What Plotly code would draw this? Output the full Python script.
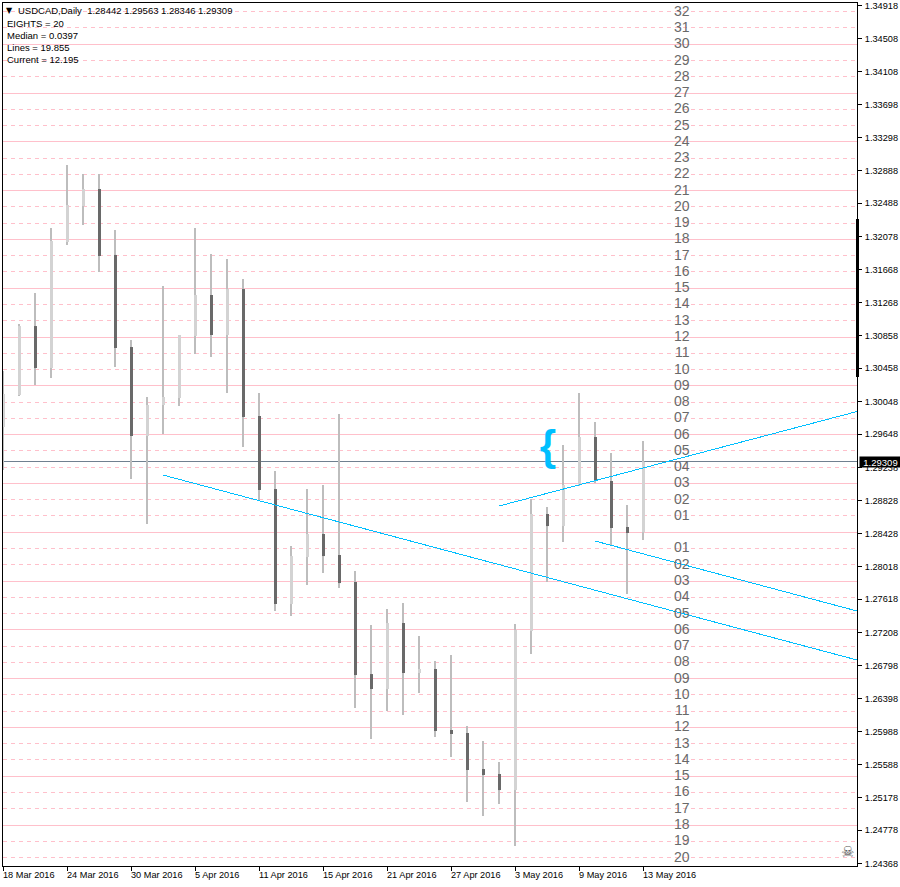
import plotly.graph_objects as go

FONT = "Liberation Sans"

bar_index = list(range(41))
opens = [1.29736,1.30129,1.30977,1.30461,1.32010,1.32453,1.32662,1.31851,1.30719,1.29625,
         1.30006,1.30092,1.30855,1.31359,1.30867,1.31432,1.29871,1.28973,1.27559,1.28137,
         1.28420,1.28162,1.27830,1.26698,1.26514,1.27326,1.26711,1.26760,1.26010,1.25973,
         1.25530,1.25469,1.25272,1.27227,1.28666,1.28518,1.29022,1.29613,1.29072,1.28506,1.28442]
highs = [1.30424,1.31002,1.31383,1.32183,1.32957,1.32846,1.32846,1.32158,1.30805,1.30105,
         1.31469,1.30867,1.32183,1.31863,1.31801,1.31555,1.30154,1.29195,1.28272,1.28973,
         1.29022,1.29895,1.27965,1.27301,1.27498,1.27572,1.27166,1.26858,1.26932,1.26059,
         1.25875,1.25616,1.27313,1.28850,1.28752,1.29514,1.30154,1.29797,1.29416,1.28777,1.29563]
lows = [1.29207,1.30117,1.30252,1.30338,1.31973,1.32219,1.31641,1.30473,1.29096,1.28543,
        1.29650,1.29994,1.30633,1.30596,1.30154,1.29490,1.28838,1.27473,1.27412,1.27793,
        1.27940,1.27756,1.26280,1.25899,1.26244,1.26194,1.26465,1.25924,1.25678,1.25125,
        1.24953,1.25100,1.24584,1.26944,1.27830,1.28322,1.29010,1.29047,1.28285,1.27682,1.28346]
closes = [1.30141,1.30977,1.30461,1.32023,1.32465,1.32662,1.31838,1.30707,1.29625,1.30006,
          1.30105,1.30867,1.31359,1.30867,1.31432,1.29859,1.28961,1.27559,1.28149,1.28420,
          1.28149,1.27817,1.26686,1.26514,1.27326,1.26711,1.26760,1.25998,1.25961,1.25518,
          1.25457,1.25272,1.27240,1.28666,1.28518,1.29022,1.29613,1.29072,1.28494,1.28432,1.29309]

date_ticks = [0,4,8,12,16,20,24,28,32,36,40]
date_labels = ["18 Mar 2016","24 Mar 2016","30 Mar 2016","5 Apr 2016","11 Apr 2016","15 Apr 2016",
               "21 Apr 2016","27 Apr 2016","3 May 2016","9 May 2016","13 May 2016"]

price_ticks = [1.34918,1.34508,1.34108,1.33698,1.33298,1.32888,1.32488,1.32078,1.31668,1.31268,
               1.30858,1.30458,1.30048,1.29648,1.29238,1.28828,1.28428,1.28018,1.27618,1.27208,
               1.26798,1.26398,1.25988,1.25588,1.25178,1.24778,1.24368]
price_tick_text = ["%.5f" % p for p in price_ticks]

level_prices = [1.34842,1.34642,1.34442,1.34242,1.34042,1.33842,1.33642,1.33442,1.33242,1.33042,
                1.32842,1.32642,1.32442,1.32242,1.32042,1.31842,1.31642,1.31442,1.31242,1.31042,
                1.30842,1.30642,1.30442,1.30242,1.30042,1.29842,1.29642,1.29442,1.29242,1.29042,
                1.28842,1.28642,1.28442,1.28242,1.28042,1.27842,1.27642,1.27442,1.27242,1.27042,
                1.26842,1.26642,1.26442,1.26242,1.26042,1.25842,1.25642,1.25442,1.25242,1.25042,
                1.24842,1.24642,1.24442]
level_labels = ["32","31","30","29","28","27","26","25","24","23","22","21","20","19","18","17",
                "16","15","14","13","12","11","10","09","08","07","06","05","04","03","02","01",
                "","01","02","03","04","05","06","07","08","09","10","11","12","13","14","15",
                "16","17","18","19","20"]

last_price = 1.29309
trend_x = [[10, 53.375], [31, 53.375], [37, 53.375]]
trend_y = [[1.29145, 1.26871], [1.28764, 1.29926], [1.28334, 1.27473]]
brace_pos = (34.06, 1.29465)
level_label_x = 42.44
range_marker = [1.32293, 1.30354]
header_lines = ["EIGHTS = 20", "Median = 0.0397", "Lines = 19.855", "Current = 12.195"]
title_text = "USDCAD,Daily  1.28442 1.29563 1.28346 1.29309"

X_RANGE = [0, 53.375]
Y_RANGE = [1.24338, 1.34949]
W, H, L, R, T, B = 900, 887, 3, 43, 3, 21
PW, PH = W - L - R, H - T - B
def px_x(px): return (px - L) / PW
def px_y(py): return (H - B - py) / PH

PINK = "#FFC0CB"; BLUE = "#00BFFF"
WICK = "#BDBDBD"; BULL = "#D3D3D3"; BEAR = "#696969"
SMALL = 9.2
MEDIUM = 9.5

fig = go.Figure()

fig.add_trace(go.Bar(x=bar_index, base=lows, y=[h - l for h, l in zip(highs, lows)],
                     width=2/16, offset=-1/16, marker=dict(color=WICK, line_width=0),
                     hoverinfo="skip"))
fig.add_trace(go.Bar(x=bar_index, base=[min(o, c) for o, c in zip(opens, closes)],
                     y=[abs(o - c) for o, c in zip(opens, closes)],
                     width=3/16, offset=-1/16,
                     marker=dict(color=[BULL if c >= o else BEAR for o, c in zip(opens, closes)], line_width=0),
                     hoverinfo="skip"))

for tx, ty in zip(trend_x, trend_y):
    fig.add_trace(go.Scatter(x=tx, y=ty, mode="lines", line=dict(color=BLUE, width=1), hoverinfo="skip"))

fig.add_trace(go.Scatter(x=[brace_pos[0]], y=[brace_pos[1]], mode="text", text=["<b>{</b>"],
                         textposition="middle center",
                         textfont=dict(family=FONT, size=42, color=BLUE), hoverinfo="skip"))

shapes = []
for i, lv in enumerate(level_prices):
    solid = i % 3 == 2
    shapes.append(dict(type="line", layer="below", xref="paper", x0=0, x1=1, yref="y", y0=lv, y1=lv,
                       line=dict(color=PINK, width=1, dash="solid" if solid else "4px,4px")))
shapes.append(dict(type="line", layer="below", xref="paper", x0=0, x1=1, yref="y", y0=last_price, y1=last_price,
                   line=dict(color="#708090", width=1)))
shapes.append(dict(type="line", layer="above", xref="paper", x0=px_x(857.5), x1=px_x(857.5), yref="y",
                   y0=range_marker[0], y1=range_marker[1], line=dict(color="black", width=3)))

anns = []
for lv, lab in zip(level_prices, level_labels):
    if lab:
        anns.append(dict(xref="x", yref="y", x=level_label_x, y=lv, text=lab, showarrow=False,
                         xanchor="center", yanchor="middle", yshift=1,
                         font=dict(family=FONT, size=14, color="#696969")))
anns.append(dict(xref="paper", yref="paper", x=px_x(16), y=px_y(10.5), text=title_text, showarrow=False,
                 xanchor="left", yanchor="middle", font=dict(family=FONT, size=MEDIUM, color="black")))
anns.append(dict(xref="paper", yref="paper", x=px_x(9.5), y=px_y(10.5), text="▼", showarrow=False,
                 xanchor="center", yanchor="middle", font=dict(family="DejaVu Sans", size=8, color="black")))
for txt, py in zip(header_lines, [23.5, 35.5, 47.5, 59.5]):
    anns.append(dict(xref="paper", yref="paper", x=px_x(5), y=px_y(py), text=txt, showarrow=False,
                     xanchor="left", yanchor="middle", font=dict(family=FONT, size=MEDIUM, color="black")))
for k, lab in zip(date_ticks, date_labels):
    anns.append(dict(xref="x", yref="paper", x=k, y=0, text=lab, showarrow=False, xanchor="left",
                     yanchor="top", xshift=-2, yshift=-2, font=dict(family=FONT, size=SMALL, color="black")))
anns.append(dict(xref="paper", yref="y", x=px_x(859), y=last_price, text="1.29309", showarrow=False,
                 xanchor="left", yanchor="middle", bgcolor="black", width=41, height=10, align="center",
                 borderpad=0, font=dict(family=FONT, size=MEDIUM, color="white")))
anns.append(dict(xref="paper", yref="paper", x=px_x(847), y=px_y(852), text="☠", showarrow=False,
                 xanchor="center", yanchor="middle", font=dict(family="DejaVu Sans", size=15, color="#555555")))

fig.update_layout(
    width=W, height=H, autosize=False, paper_bgcolor="white", plot_bgcolor="white",
    margin=dict(l=L, r=R, t=T, b=B, autoexpand=False), showlegend=False, barmode="overlay",
    shapes=shapes, annotations=anns,
    xaxis=dict(range=X_RANGE, tickmode="array", tickvals=date_ticks, showticklabels=False, ticks="outside",
               ticklen=4, tickcolor="black", tickwidth=1, showgrid=False, zeroline=False,
               showline=True, linecolor="black", linewidth=1, mirror=True),
    yaxis=dict(range=Y_RANGE, side="right", tickmode="array", tickvals=price_ticks, ticktext=price_tick_text,
               ticks="outside", ticklen=4, tickcolor="black", tickwidth=1, showgrid=False, zeroline=False,
               ticklabelstandoff=1,
               tickfont=dict(family=FONT, size=SMALL, color="black"),
               showline=True, linecolor="black", linewidth=1, mirror=True),
)
post = ("document.body.style.margin='0';document.documentElement.style.overflow='hidden';"
        "document.querySelectorAll('.shapelayer path, .scatterlayer .js-line')"
        ".forEach(function(p){p.style.shapeRendering='crispEdges';});")
fig.write_html("out.html", post_script=post, config={"displayModeBar": False})
